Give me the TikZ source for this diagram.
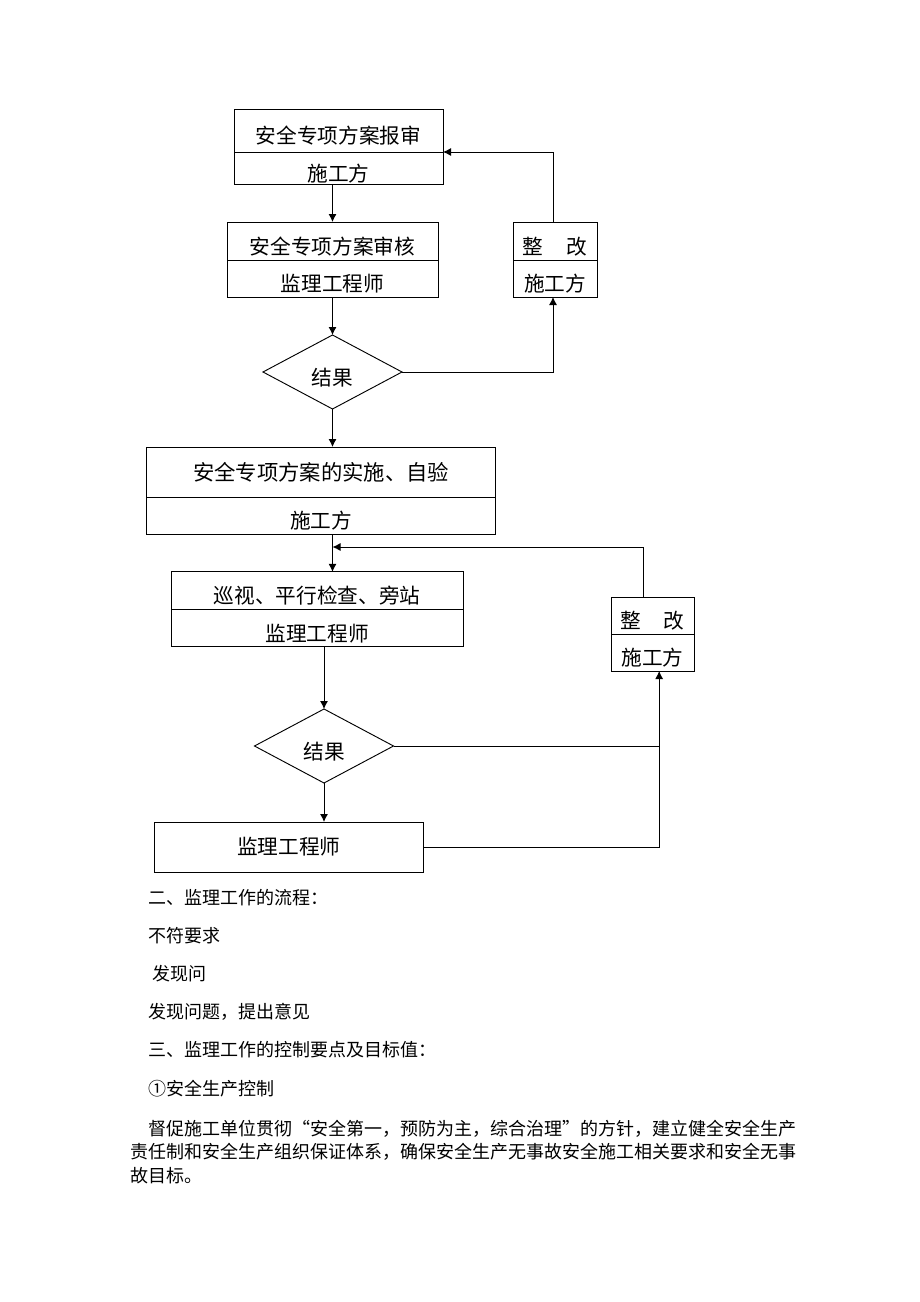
\documentclass[tikz,border=0pt]{standalone}
\usepackage{fontspec}
\newfontfamily\cjk{Noto Sans CJK SC}
\usetikzlibrary{arrows.meta, positioning, shapes.geometric}

\begin{document}
\begin{tikzpicture}[
            > = {Latex[length=6pt, width=6pt]}, % arrow head style
            x = 0.75pt, y = -0.75pt, % one unit is one pixel of the page
            line width = 0.7pt % line style
        ]

        \tikzstyle{every node}=[
        inner sep = 0pt,
        outer sep = 0pt,
        font = \cjk\fontsize{15.5}{18}\selectfont
        ]
        \tikzstyle{part}=[draw = black, rectangle]
        \tikzstyle{low}=[text height = 19.8pt, text depth = 0pt] % text a little under the middle
        \tikzstyle{choice}=[draw = black, diamond, low, minimum width = 104.25pt, minimum height = 55.5pt]
        \tikzstyle{line}=[anchor = west, font = \cjk\fontsize{13.5}{17.6}\selectfont]

        \useasboundingbox (0,0) rectangle (920,1302);

        % scheme review
        \node (1) [part, low, minimum width = 156.75pt, minimum height = 32.25pt] at (338.5,130.5) {安全专项方案报审};
        \node (1b) [part, low, minimum width = 156.75pt, minimum height = 24pt, below = 0pt of 1] {施工方};
        \node (2) [part, low, minimum width = 158.25pt, minimum height = 28.5pt] at (332.5,241) {安全专项方案审核};
        \node (2b) [part, low, minimum width = 158.25pt, minimum height = 27.75pt, below = 0pt of 2] {监理工程师};
        \node (3) [choice] at (332.5,372) {结果};
        \node (4) [part, low, minimum width = 63pt, minimum height = 28.5pt] at (555,241) {整\hspace{1.1em}改};
        \node (4b) [part, low, minimum width = 63pt, minimum height = 27.75pt, below = 0pt of 4] {施工方};

        % implementation and checks
        \node (5) [part, minimum width = 261.75pt, minimum height = 37.5pt, font = \cjk\fontsize{16}{18}\selectfont] at (321,472) {安全专项方案的实施、自验};
        \node (5b) [part, low, minimum width = 261.75pt, minimum height = 27.75pt, below = 0pt of 5] {施工方};
        \node (6) [part, low, minimum width = 219.5pt, minimum height = 28pt] at (317.3,590.5) {巡视、平行检查、旁站};
        \node (6b) [part, low, minimum width = 219.5pt, minimum height = 28pt, below = 0pt of 6] {监理工程师};
        \node (7) [choice] at (324,746) {结果};
        \node (8) [part, low, minimum width = 62.25pt, minimum height = 27.75pt] at (652.5,615.5) {整\hspace{1.1em}改};
        \node (8b) [part, low, minimum width = 62.25pt, minimum height = 27.75pt, below = 0pt of 8] {施工方};
        \node (9) [part, minimum width = 201.4pt, minimum height = 37.5pt] at (288.75,847) {监理工程师};

        \coordinate (j0) at ([xshift = -1.5pt]4b.south);
        \coordinate (j1) at (332.5,547);
        \coordinate (j2) at ([xshift = 5pt]8b.south);

        \draw[->] (1b.south -| 2.north) -- (2.north);
        \draw[->] (2b.south) -- (3.north);
        \draw[->] (3.east) -| (j0);
        \draw[->] ([xshift = -1.5pt]4.north) |- (1.south east);
        \draw[->] (3.south) -- (3.south |- 5.north);
        \draw[->] (5b.south -| j1) -- (j1 |- 6.north);
        \draw[->] ([xshift = -7pt]8.north) |- (j1);
        \draw[->] (6b.south -| 7.north) -- (7.north);
        \draw[->] (7.south) -- (7.south |- 9.north);
        \draw (7.east) -- (7.east -| j2);
        \draw[->] (9.east) -| (j2);

        % text below
        \node (t1) [line] at (148,898) {二、监理工作的流程：};
        \node (t2) [line] at (148,936) {不符要求};
        \node (t3) [line] at (152,974) {发现问};
        \node (t4) [line] at (148,1012) {发现问题，提出意见};
        \node (t5) [line] at (148,1050) {三、监理工作的控制要点及目标值：};
        \node (t6) [line] at (148,1089) {①安全生产控制};
        \node (t7) [line] at (148,1129) {督促施工单位贯彻“安全第一，预防为主，综合治理”的方针，建立健全安全生产};
        \node (t8) [line] at (130,1152) {责任制和安全生产组织保证体系，确保安全生产无事故安全施工相关要求和安全无事};
        \node (t9) [line] at (130,1176) {故目标。};
    \end{tikzpicture}
\end{document}
